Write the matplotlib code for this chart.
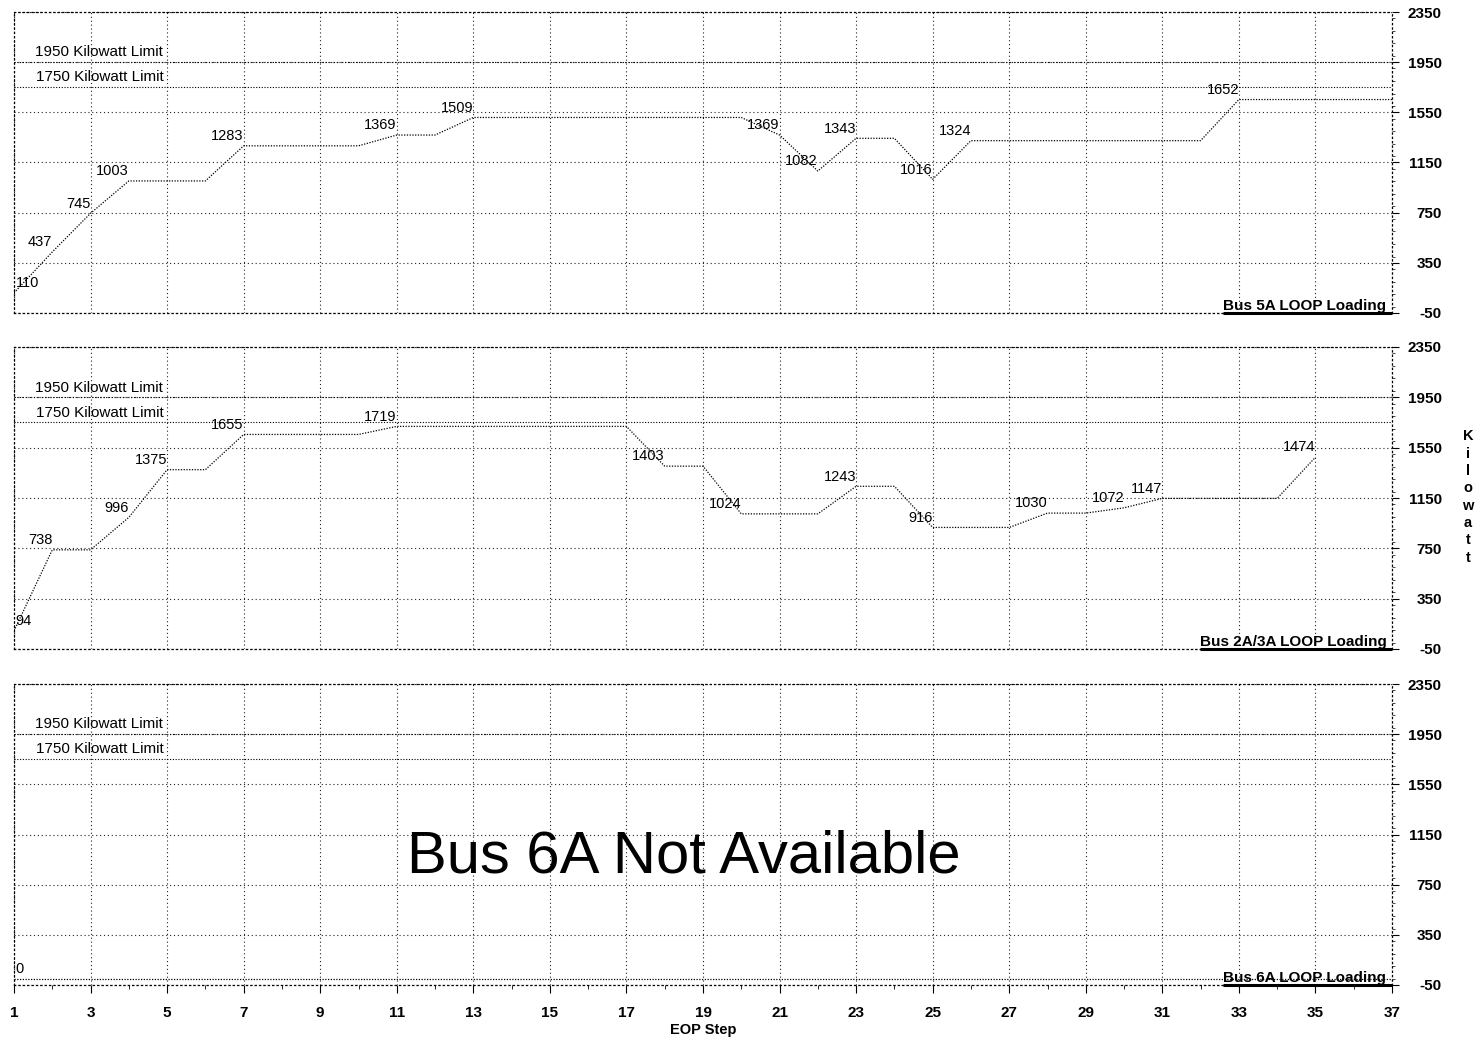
import matplotlib
matplotlib.use("Agg")
import matplotlib.pyplot as plt
from matplotlib.ticker import MultipleLocator

plt.rcParams['font.family'] = ['Liberation Sans', 'DejaVu Sans']
plt.rcParams['axes.unicode_minus'] = False

# EOP steps and bus loading (kW)
steps_5a = list(range(1, 38))
load_5a = [110, 437, 745, 1003, 1003, 1003, 1283, 1283, 1283, 1283,
           1369, 1369, 1509, 1509, 1509, 1509, 1509, 1509, 1509, 1509,
           1369, 1082, 1343, 1343, 1016, 1324, 1324, 1324, 1324, 1324,
           1324, 1324, 1652, 1652, 1652, 1652, 1652]

steps_23a = list(range(1, 36))
load_23a = [94, 738, 738, 996, 1375, 1375, 1655, 1655, 1655, 1655,
            1719, 1719, 1719, 1719, 1719, 1719, 1719, 1403, 1403, 1024,
            1024, 1024, 1243, 1243, 916, 916, 916, 1030, 1030, 1072,
            1147, 1147, 1147, 1147, 1474]

steps_6a = list(range(1, 38))
load_6a = [0] * len(steps_6a)

limits = [1950, 1750]
yticks = [-50, 350, 750, 1150, 1550, 1950, 2350]
xticks = list(range(1, 38, 2))

panels = [
    ("Bus 5A LOOP Loading", steps_5a, load_5a),
    ("Bus 2A/3A LOOP Loading", steps_23a, load_23a),
    ("Bus 6A LOOP Loading", steps_6a, load_6a),
]

W, H = 1482, 1042
fig = plt.figure(figsize=(W / 100, H / 100), dpi=100)
left, right = 14 / W, 1392 / W
boxes = [(12, 313), (347, 649), (684, 985)]

dots = (0, (1, 2.5))
axes = []
for (top, bot), (name, xs, ys) in zip(boxes, panels):
    ax = fig.add_axes([left, 1 - bot / H, right - left, (bot - top) / H])
    axes.append(ax)
    ax.set_xlim(1, 37)
    ax.set_ylim(-50, 2350)
    ax.set_xticks(xticks)
    ax.set_yticks(yticks)
    ax.grid(True, color='#222222', linestyle=dots, linewidth=0.8)
    for s in ax.spines.values():
        s.set_linestyle(dots)
        s.set_linewidth(0.9)
    ax.yaxis.tick_right()
    ax.tick_params(axis='y', direction='out', length=5, width=0.8)
    ax.yaxis.set_minor_locator(MultipleLocator(100))
    ax.tick_params(axis='y', which='minor', direction='out', length=2, width=0.5)
    ax.tick_params(axis='y', pad=31)
    for lab in ax.get_yticklabels():
        lab.set_horizontalalignment('right')
        lab.set_fontweight('bold')
        lab.set_fontsize(11)

    # kilowatt limit lines
    for lim in limits:
        ax.axhline(lim, color='black', linestyle=(0, (1, 1.5)), linewidth=0.8)
        ax.annotate("%d Kilowatt Limit" % lim, (4.9, lim), xytext=(0, 2),
                    textcoords='offset points', ha='right', va='bottom',
                    fontsize=11)

    ax.plot(xs, ys, color='black', linestyle=(0, (1, 1.2)), linewidth=0.9)

    # value labels at each change of load
    prev = None
    for i, (x, y) in enumerate(zip(xs, ys)):
        if y != prev:
            ax.annotate(str(y), (x, y), xytext=(1 if i == 0 else 0, 2),
                        textcoords='offset points',
                        ha='left' if i == 0 else 'right', va='bottom',
                        fontsize=10.5)
        prev = y

    ax.text(36.85, -50, name, ha='right', va='bottom', fontsize=11,
            fontweight='bold')

for ax in axes[:2]:
    ax.tick_params(axis='x', length=0, labelbottom=False)

ax3 = axes[2]
ax3.xaxis.set_minor_locator(MultipleLocator(1))
ax3.tick_params(axis='x', direction='out', length=6, width=0.8, pad=9)
ax3.tick_params(axis='x', which='minor', direction='out', length=3, width=0.6)
for lab in ax3.get_xticklabels():
    lab.set_fontweight('bold')
    lab.set_fontsize(11)

# underline the bus names
fig.canvas.draw()
r = fig.canvas.get_renderer()
for ax in axes:
    for t in ax.texts:
        if t.get_text().endswith("Loading"):
            bb = t.get_window_extent(r).transformed(ax.transData.inverted())
            ax.plot([bb.x0, 37], [-50, -50], color='black', linewidth=2.2,
                    solid_capstyle='butt', clip_on=False)

fig.text(684 / W, 1 - 857 / H, "Bus 6A Not Available", ha='center',
         va='center', fontsize=43)
fig.text(703 / W, 1 - 1030 / H, "EOP Step", ha='center', va='center',
         fontsize=10.5, fontweight='bold')
fig.text(1468 / W, 1 - 497 / H, "K\ni\nl\no\nw\na\nt\nt", ha='center',
         va='center', fontsize=10.5, fontweight='bold', linespacing=1.3)

fig.savefig("out.png", dpi=100)
